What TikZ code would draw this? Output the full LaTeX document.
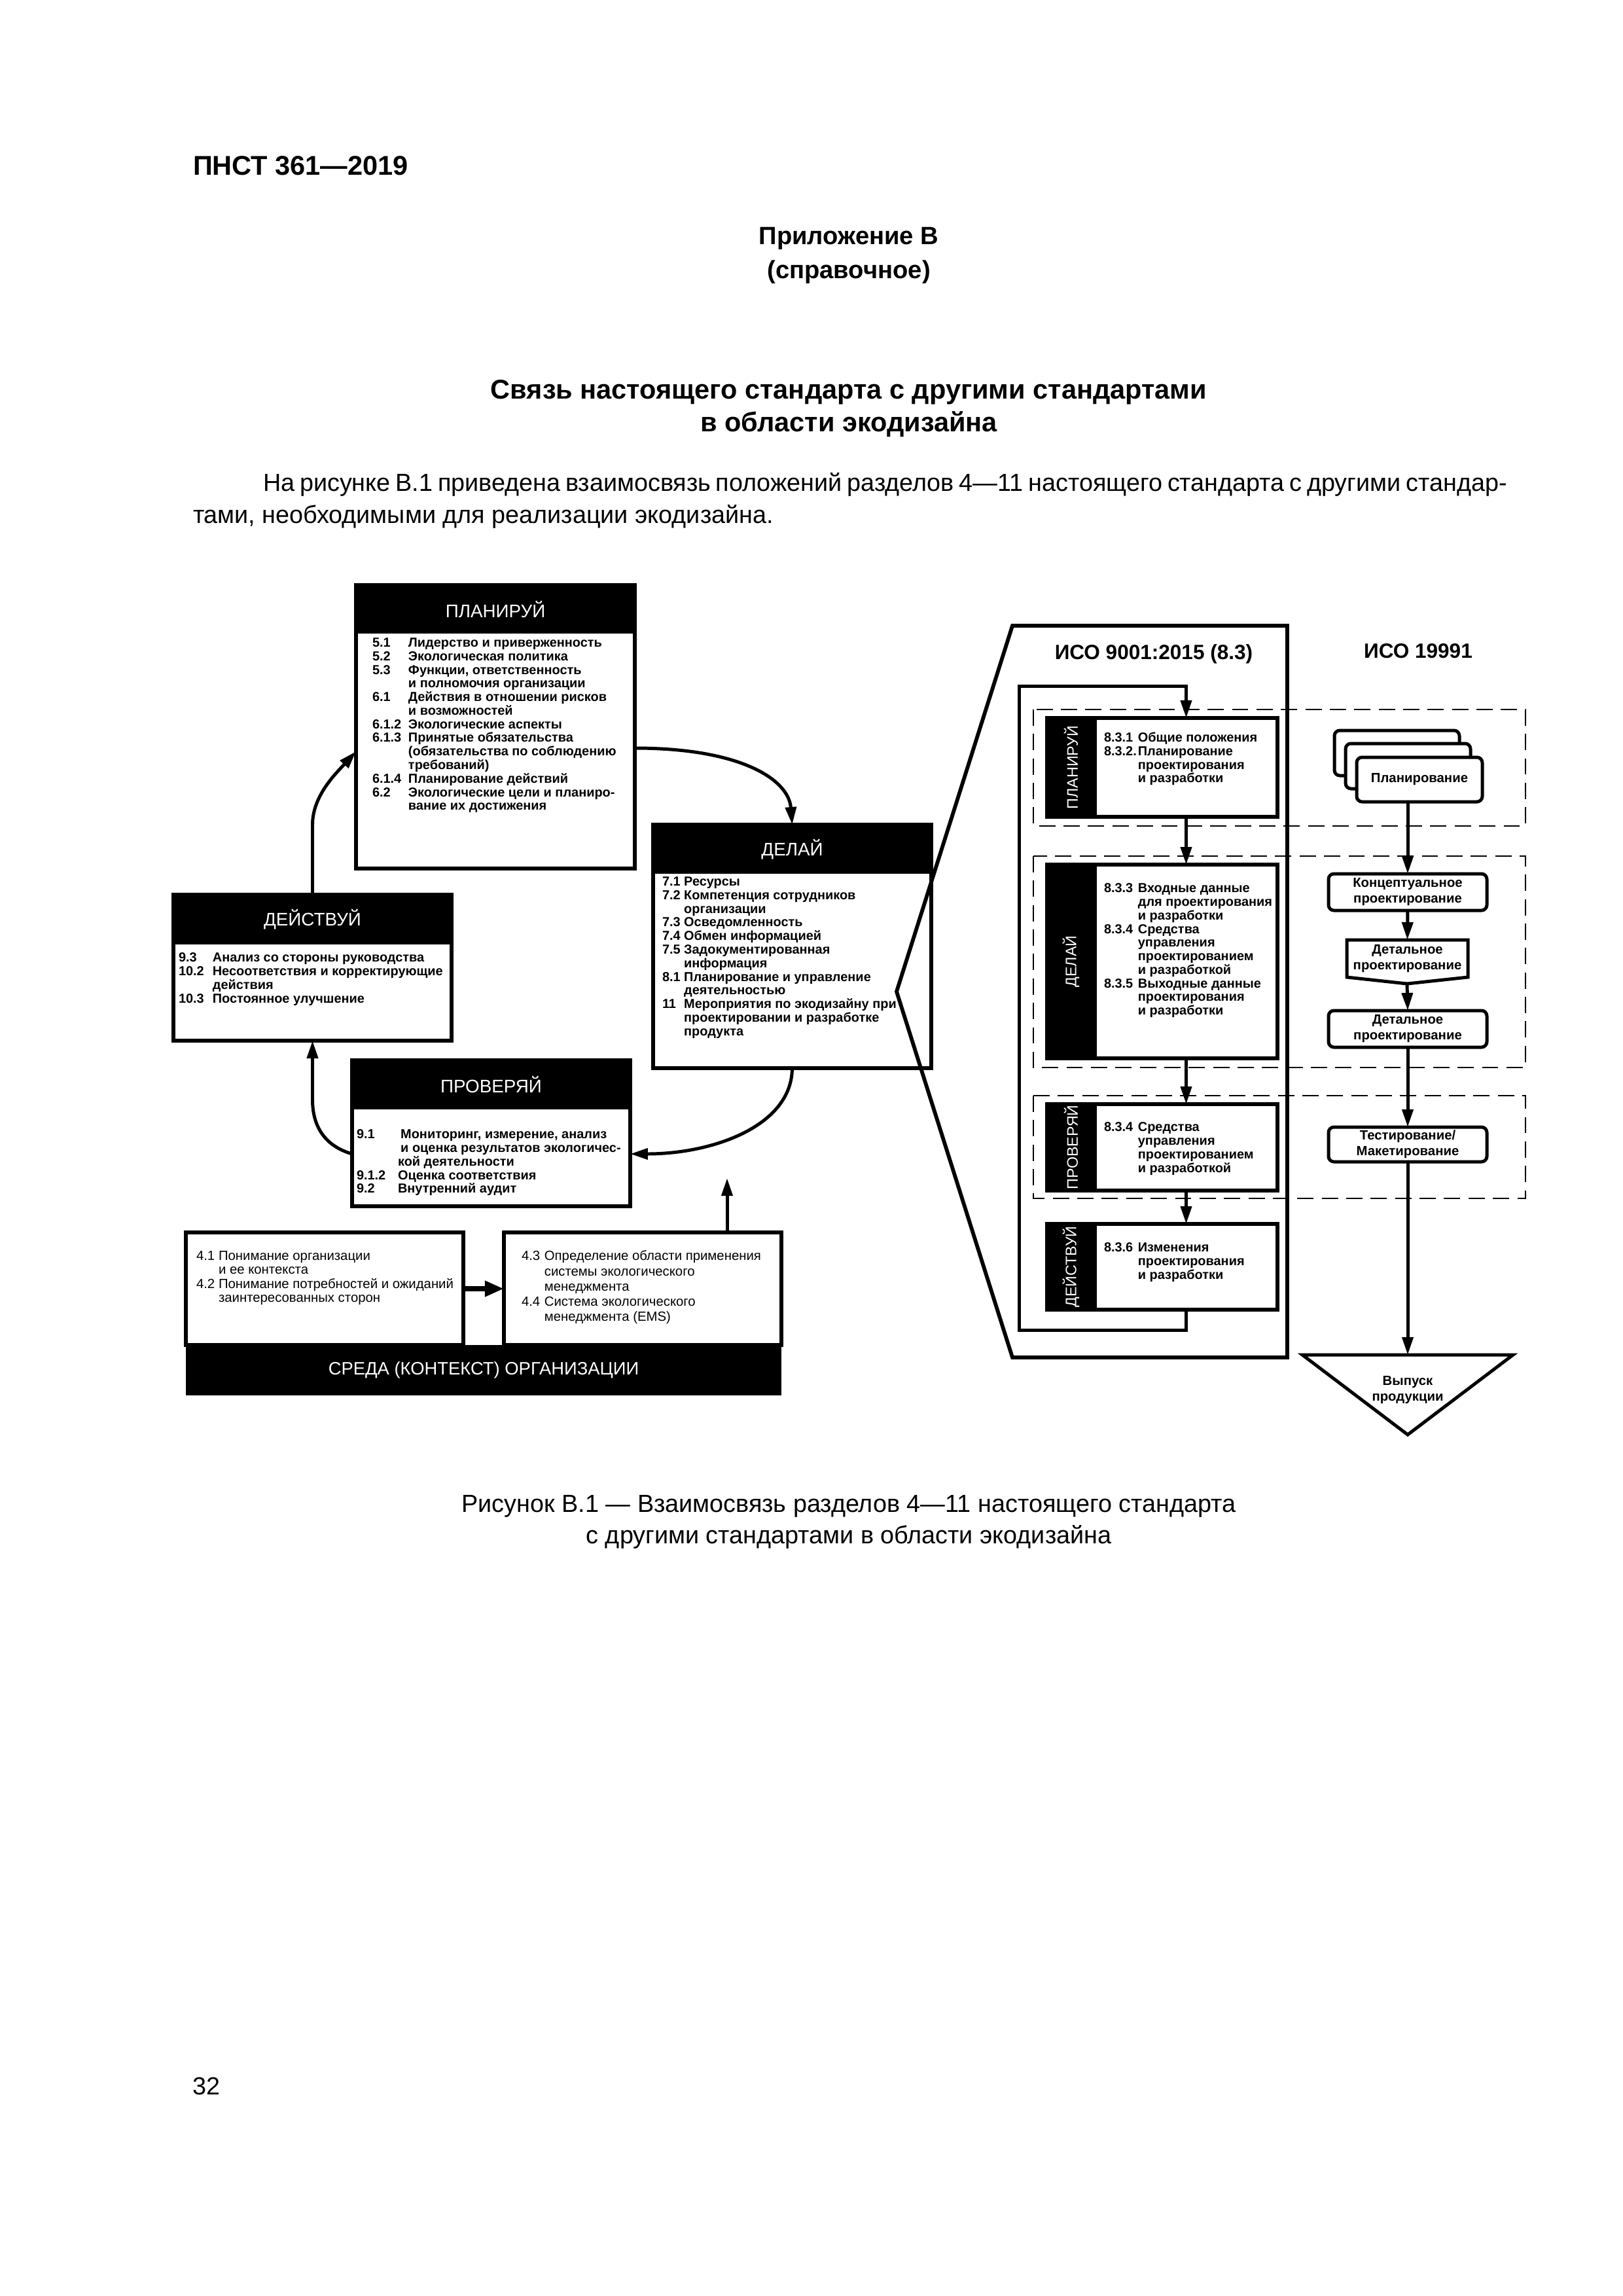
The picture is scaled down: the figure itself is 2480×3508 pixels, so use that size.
\documentclass[tikz,border=0pt]{standalone}
\usepackage{fontspec}
\setmainfont{Liberation Sans}
\usetikzlibrary{arrows.meta,fit}
\newlength{\numw}
\newcommand{\clausenum}[1]{\makebox[\numw][l]{#1}}
\newcommand{\contline}{\hspace*{\numw}}

\begin{document}
\begin{tikzpicture}[x=0.24093pt, y=-0.24093pt, line width=1.2pt,
      every node/.append style={inner sep=0pt, outer sep=0pt},
      arr/.style={-{Triangle[length=6.5pt,width=4pt]}},
      numw/.code={\setlength{\numw}{#1}}]
  \tikzstyle{pdcabox} = [draw, line width=1.4pt]
  \tikzstyle{pdcahead} = [fill=black]
  \tikzstyle{headtext} = [text=white, font=\fontsize{6.7}{8}\selectfont]
  \tikzstyle{clauses} = [anchor=north west, align=left, font=\fontsize{4.8}{5}\selectfont\bfseries]
  \tikzstyle{ctxtext} = [anchor=north west, align=left, font=\fontsize{4.9}{5.2}\selectfont]
  \tikzstyle{stripbox} = [fill=black, draw, line width=1.4pt]
  \tikzstyle{striptext} = [rotate=90, text=white, font=\fontsize{5.6}{6}\selectfont]
  \tikzstyle{stagebox} = [draw, line width=1.2pt, rounded corners=2pt, fill=white]
  \tikzstyle{stagetext} = [align=center, font=\fontsize{4.9}{5.8}\selectfont\bfseries]
  \tikzstyle{isotitle} = [font=\fontsize{7.6}{9}\selectfont\bfseries]
  \tikzstyle{phaseband} = [draw, line width=0.7pt, dash pattern=on 6pt off 3pt]
  \tikzstyle{pagetext} = [font=\fontsize{9.1}{11}\selectfont]
  \tikzstyle{pagehead} = [font=\fontsize{10}{12}\selectfont\bfseries]

  \fill[white] (0,0) rectangle (2480,3508);
  \useasboundingbox (0,0) rectangle (2480,3508);

  \node[pagehead, anchor=west] (docId) at (295,253) {ПНСТ 361—2019};
  \node[pagehead, font=\fontsize{9.2}{12}\selectfont\bfseries] (annexA) at (1297,364) {Приложение В};
  \node[pagehead, font=\fontsize{9.2}{12}\selectfont\bfseries] (annexB) at (1297,416) {(справочное)};
  \node[pagehead] (titleA) at (1297,599) {Связь настоящего стандарта с другими стандартами};
  \node[pagehead] (titleB) at (1297,648) {в области экодизайна};
  \node[pagetext, anchor=west] (paraA) at (402,740) {\makebox[458pt][s]{На рисунке В.1 приведена взаимосвязь положений разделов 4—11 настоящего стандарта с другими стандар-}};
  \node[pagetext, anchor=west] (paraB) at (295,789) {тами, необходимыми для реализации экодизайна.};

  \node[pdcabox, fit={(544,894) (970,1327)}] (planBox) {};
  \node[pdcahead, fit={(544,894) (970,968)}] (planHead) {};
  \node[headtext] (planTitle) at (planHead) {ПЛАНИРУЙ};
  \node[clauses, numw=13.25pt] (planList) at (569,975) {\clausenum{5.1}Лидерство и приверженность\\
    \clausenum{5.2}Экологическая политика\\
    \clausenum{5.3}Функции, ответственность\\
    \contline и полномочия организации\\
    \clausenum{6.1}Действия в отношении рисков\\
    \contline и возможностей\\
    \clausenum{6.1.2}Экологические аспекты\\
    \clausenum{6.1.3}Принятые обязательства\\
    \contline(обязательства по соблюдению\\
    \contline требований)\\
    \clausenum{6.1.4}Планирование действий\\
    \clausenum{6.2}Экологические цели и планиро-\\
    \contline вание их достижения};

  \node[pdcabox, fit={(265,1367) (690,1590)}] (actBox) {};
  \node[pdcahead, fit={(265,1367) (690,1443)}] (actHead) {};
  \node[headtext] (actTitle) at (actHead) {ДЕЙСТВУЙ};
  \node[clauses, numw=12.5pt] (actList) at (273,1456) {\clausenum{9.3}Анализ со стороны руководства\\
    \clausenum{10.2}Несоответствия и корректирующие\\
    \contline действия\\
    \clausenum{10.3}Постоянное улучшение};

  \node[pdcabox, fit={(998,1260) (1423,1632)}] (doBox) {};
  \node[pdcahead, fit={(998,1260) (1423,1335)}] (doHead) {};
  \node[headtext] (doTitle) at (doHead) {ДЕЛАЙ};
  \node[clauses, numw=8pt] (doList) at (1012,1340) {\clausenum{7.1}Ресурсы\\
    \clausenum{7.2}Компетенция сотрудников\\
    \contline организации\\
    \clausenum{7.3}Осведомленность\\
    \clausenum{7.4}Обмен информацией\\
    \clausenum{7.5}Задокументированная\\
    \contline информация\\
    \clausenum{8.1}Планирование и управление\\
    \contline деятельностью\\
    \clausenum{11}Мероприятия по экодизайну при\\
    \contline проектировании и разработке\\
    \contline продукта};

  \node[pdcabox, fit={(538,1620) (963,1843)}] (checkBox) {};
  \node[pdcahead, fit={(538,1620) (963,1695)}] (checkHead) {};
  \node[headtext] (checkTitle) at (checkHead) {ПРОВЕРЯЙ};
  \node[clauses, numw=15.2pt] (checkList) at (545,1726) {\clausenum{9.1}\hspace{1pt}Мониторинг, измерение, анализ\\
    \contline\hspace{1pt}и оценка результатов экологичес-\\
    \contline кой деятельности\\
    \clausenum{9.1.2}Оценка соответствия\\
    \clausenum{9.2}Внутренний аудит};

  \draw[arr] (planBox.east |- 0,1143) .. controls (1130,1143) and (1205,1190) .. (doBox.north);
  \draw[arr] (doBox.south) .. controls (1210,1720) and (1090,1763) .. (checkBox.east |- 0,1763);
  \draw[arr] (checkBox.west |- 0,1763) .. controls (500,1752) and (477.5,1725) .. (477.5,1680) -- (actBox.south);
  \draw[arr] (actBox.north) -- (477.5,1260) .. controls (477.5,1215) and (515,1180) .. (planBox.west |- 0,1148);

  \node[pdcabox, fit={(284,1883) (708,2055)}] (ctxL) {};
  \node[pdcabox, fit={(770,1883) (1194,2055)}] (ctxR) {};
  \node[pdcahead, fit={(284,2055) (1194,2132)}] (ctxBand) {};
  \node[headtext, font=\fontsize{6.6}{8}\selectfont] (ctxTitle) at (ctxBand) {СРЕДА (КОНТЕКСТ) ОРГАНИЗАЦИИ};
  \node[ctxtext, numw=8.2pt] (ctxLText) at (300,1911) {\clausenum{4.1}Понимание организации\\
    \contline и ее контекста\\
    \clausenum{4.2}Понимание потребностей и ожиданий\\
    \contline заинтересованных сторон};
  \node[ctxtext, numw=8.4pt, font=\fontsize{4.9}{5.6}\selectfont] (ctxRText) at (797,1911) {\clausenum{4.3}Определение области применения\\
    \contline системы экологического\\
    \contline менеджмента\\
    \clausenum{4.4}Система экологического\\
    \contline менеджмента (EMS)};
  \draw[-{Triangle[length=7pt,width=5.5pt]}, line width=2pt] (ctxL.east) -- (ctxR.west);
  \coordinate (upTip) at (1111,1800);
  \draw[arr] (ctxR.north -| upTip) -- (upTip);

  \draw[line width=1.4pt] (1547,956) -- (1967,956) -- (1967,2074) -- (1547,2074) -- (1370,1515) -- cycle;
  \node[isotitle] (isoTitleA) at (1763,999) {ИСО 9001:2015 (8.3)};
  \node[isotitle] (isoTitleB) at (2167,995) {ИСО 19991};
  \draw[phaseband] (1579,1084) rectangle (2331,1262);
  \draw[phaseband] (1579,1308) rectangle (2331,1631);
  \draw[phaseband] (1579,1674) rectangle (2331,1831);

  \node[stripbox, fit={(1600,1097) (1673,1248)}] (isoPs) {};
  \node[pdcabox, fit={(1673,1097) (1952,1248)}] (isoPw) {};
  \node[striptext] (isoPt) at (isoPs) {ПЛАНИРУЙ};
  \node[clauses, numw=12.5pt] (isoPl) at (1687,1119) {\clausenum{8.3.1}Общие положения\\
    \clausenum{8.3.2.}Планирование\\
    \contline проектирования\\
    \contline и разработки};

  \node[stripbox, fit={(1600,1321) (1673,1617)}] (isoDs) {};
  \node[pdcabox, fit={(1673,1321) (1952,1617)}] (isoDw) {};
  \node[striptext] (isoDt) at (isoDs) {ДЕЛАЙ};
  \node[clauses, numw=12.5pt] (isoDl) at (1687,1350) {\clausenum{8.3.3}Входные данные\\
    \contline для проектирования\\
    \contline и разработки\\
    \clausenum{8.3.4}Средства\\
    \contline управления\\
    \contline проектированием\\
    \contline и разработкой\\
    \clausenum{8.3.5}Выходные данные\\
    \contline проектирования\\
    \contline и разработки};

  \node[stripbox, fit={(1600,1687) (1673,1819)}] (isoCs) {};
  \node[pdcabox, fit={(1673,1687) (1952,1819)}] (isoCw) {};
  \node[striptext] (isoCt) at (isoCs) {ПРОВЕРЯЙ};
  \node[clauses, numw=12.5pt] (isoCl) at (1687,1715) {\clausenum{8.3.4}Средства\\
    \contline управления\\
    \contline проектированием\\
    \contline и разработкой};

  \node[stripbox, fit={(1600,1870) (1673,2001)}] (isoAs) {};
  \node[pdcabox, fit={(1673,1870) (1952,2001)}] (isoAw) {};
  \node[striptext] (isoAt) at (isoAs) {ДЕЙСТВУЙ};
  \node[clauses, numw=12.5pt] (isoAl) at (1687,1899) {\clausenum{8.3.6}Изменения\\
    \contline проектирования\\
    \contline и разработки};

  \coordinate (loopBL) at (1557,2032);
  \coordinate (loopTL) at (1557,1048);
  \draw[arr] (isoAw.south) |- (loopBL) -- (loopTL) -| (isoPw.north);
  \draw[arr] (isoPw.south) -- (isoDw.north);
  \draw[arr] (isoDw.south) -- (isoCw.north);
  \draw[arr] (isoCw.south) -- (isoAw.north);

  \node[stagebox, fit={(2039,1116) (2230,1185)}] (planC) {};
  \node[stagebox, fit={(2056,1136) (2247,1205)}] (planB) {};
  \node[stagebox, fit={(2073,1157) (2265,1225)}] (planA) {};
  \node[stagetext] (planAText) at (planA) {Планирование};
  \node[stagebox, fit={(2030,1335) (2272,1391)}] (concept) {};
  \node[stagetext] (conceptText) at (concept) {Концептуальное\\проектирование};
  \node[fit={(2058,1436) (2243,1493)}] (detailA) {};
  \coordinate (detailTip) at (2150,1503);
  \draw (detailA.north west) -- (detailA.north east) -- (detailA.south east) -- (detailTip) -- (detailA.south west) -- cycle;
  \node[stagetext] (detailAText) at (detailA) {Детальное\\проектирование};
  \node[stagebox, fit={(2030,1544) (2272,1600)}] (detailB) {};
  \node[stagetext] (detailBText) at (detailB) {Детальное\\проектирование};
  \node[stagebox, fit={(2030,1722) (2272,1775)}] (testing) {};
  \node[stagetext] (testingText) at (testing) {Тестирование/\\Макетирование};
  \coordinate (relL) at (1990,2070);
  \coordinate (relR) at (2312,2070);
  \coordinate (relB) at (2151,2192);
  \coordinate (relTop) at (2151,2070);
  \draw (relL) -- (relR) -- (relB) -- cycle;
  \node[stagetext] (release) at (2151,2124) {Выпуск\\продукции};
  \draw[arr] (planA.south -| concept.north) -- (concept.north);
  \draw[arr] (concept.south) -- (detailA.north);
  \draw[arr] (detailTip) -- (detailB.north);
  \draw[arr] (detailB.south) -- (testing.north);
  \draw[arr] (testing.south) -- (relTop);

  \node[pagetext] (capA) at (1297,2301) {Рисунок В.1 — Взаимосвязь разделов 4—11 настоящего стандарта};
  \node[pagetext] (capB) at (1297,2348) {с другими стандартами в области экодизайна};
  \node[pagetext] (pageNum) at (316,3187) {32};
\end{tikzpicture}
\end{document}
